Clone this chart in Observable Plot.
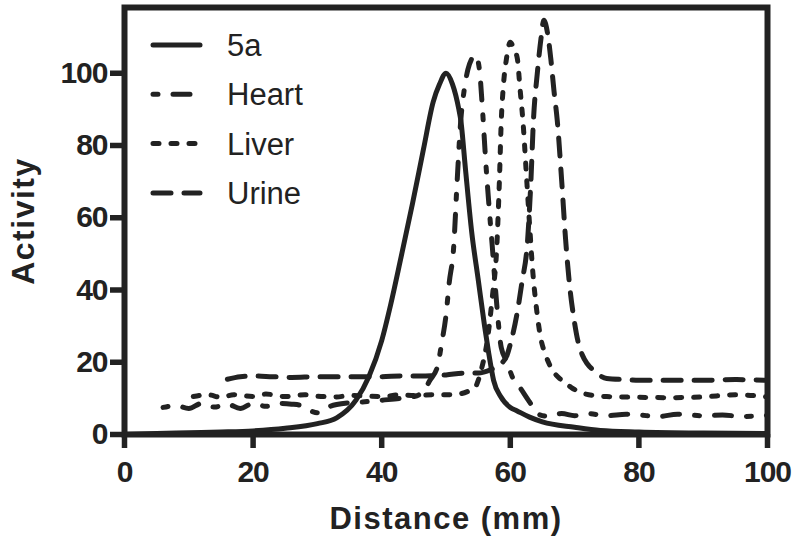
<!DOCTYPE html>
<html><head><meta charset="utf-8">
<script src="https://cdn.jsdelivr.net/npm/d3@7"></script>
<script src="https://cdn.jsdelivr.net/npm/@observablehq/plot@0.6"></script>
<style>
html,body{margin:0;padding:0;background:#fff;}
#chart svg{display:block;}
g[aria-label="x-axis tick label"] text, g[aria-label="y-axis tick label"] text {letter-spacing:-1px;}
</style></head><body><div id="chart"></div>
<script>
const seriesNames = ["5a", "Heart", "Liver", "Urine"];

const x5a = [0,5,10,15,20,25,30,33,36,38,40,41.4,43,44.8,46.5,48,49,50,51,52,52.3,53,54,55,56,56.6,57.4,58.5,60,61,63,65,70,74,80,90,100];
const y5a = [0,0.3,0.5,0.7,1,1.7,3,4.6,9.5,16,26,36,49,64,79,92,97,100,97,90,87,74,56,43,30,23,15,10.5,7.5,6.6,4.8,3.5,2,1.1,0.7,0.4,0.3];

const xHeart = [6,8,10,12,14,16,18,20,22,24,26,27.5,29,30,31.5,33,35,37,40,43,45,46.5,47.5,48.7,49.3,50,50.5,51.2,51.7,52.3,52.8,53.4,54,54.6,55.2,55.6,56.2,56.7,57.2,57.8,58.6,59.5,60.3,61.5,63,64.5,66,68,70,72,75,78,80,83,86,90,93,96,100];
const yHeart = [7.5,8,7.2,8.6,7.6,8.4,7.2,8.6,7.8,8.6,8.4,8,6.5,6,7.5,8.3,8.8,9,9.5,10,10.5,12,15,19,25,33,42,52,69,87,95,101,104,105,101,92,75,63,52,38,24,20,16,13,9,5.5,5,5.8,5.2,5.8,5.2,5.6,5.4,5,5.6,5.2,5.4,5,5.3];

const xLiver = [10.7,13,15,17,20,22,25,28,30,33,35,38,40,43,45,48,50,52,53.5,54.5,55.5,56.5,57.2,57.9,58.3,58.6,58.9,59.4,60,60.5,61.1,61.5,62,62.5,63,63.5,64,64.7,65.5,66.5,68,69.5,71.5,75,80,85,90,95,100];
const yLiver = [10.5,11,10.3,11,10.5,11.2,10.5,11,10.6,10.4,10.8,10.6,10.5,11,10.8,11,11,11.2,12,13,18,27,38,52,70,87,96,104,108.6,107,104,96,86,72,58,45,36,27,22,18,15,13,11.3,10.5,10.3,10.2,10.4,11,10.4];

const xUrine = [16,18,20,23,26,30,33,36,40,43,46,50,53,55,57,58.5,59.5,60,61,61.8,62.7,63.2,63.6,64.2,64.8,65.2,65.8,66.3,66.8,67.3,68,68.6,69.3,69.9,70.5,71.2,72,73,75,78,80,85,90,95,100];
const yUrine = [15.3,16,16.2,16,15.8,16,16,16,16,16.2,16.2,16.5,17,17,18,19.5,22,25,33,42,54,70,87,100,110,114.7,111,104,95,87,70,54,40,32,26,22,19.5,17.7,15.5,15.2,15,15,15,15.2,15];

const xTicks = [0, 20, 40, 60, 80, 100];
const yTicks = [0, 20, 40, 60, 80, 100];
const xTitle = "Distance (mm)";
const yTitle = "Activity";

const ink = "#222";
const font = "'Liberation Sans', Arial, Helvetica, sans-serif";
const dashes = {"5a": null, "Heart": "5,15,17,15", "Liver": "6,12", "Urine": "18,13"};

function rows(name, xs, ys) { return xs.map((x, i) => ({series: name, x, y: ys[i]})); }
const data = {
  "5a": rows("5a", x5a, y5a),
  "Heart": rows("Heart", xHeart, yHeart),
  "Liver": rows("Liver", xLiver, yLiver),
  "Urine": rows("Urine", xUrine, yUrine)
};

const chart = Plot.plot({
  width: 796, height: 541,
  marginLeft: 124, marginRight: 29, marginTop: 7, marginBottom: 107,
  style: {fontFamily: font, color: ink, background: "#fff", overflow: "visible"},
  x: {domain: [0, 100]},
  y: {domain: [0, 118.2]},
  marks: [
    ...seriesNames.map(name => Plot.line(data[name], {
      x: "x", y: "y", stroke: ink, strokeWidth: 5,
      strokeDasharray: dashes[name], strokeLinecap: "round", strokeLinejoin: "round",
      curve: "monotone-x"
    })),
    Plot.frame({stroke: ink, strokeWidth: 6}),
    Plot.axisX({ticks: xTicks, tickSize: 14, tickPadding: 12, stroke: ink, strokeWidth: 5.5,
      fontSize: 30, fontWeight: "bold", label: null, tickFormat: d => String(d)}),
    Plot.axisY({ticks: yTicks, tickSize: 14, tickPadding: 3, stroke: ink, strokeWidth: 5.5,
      fontSize: 30, fontWeight: "bold", label: null, tickFormat: d => String(d)}),
    Plot.text([xTitle], {text: d => d, frameAnchor: "bottom", dy: 94, lineAnchor: "bottom",
      textAnchor: "middle", fontSize: 31, fontWeight: "bold", fill: ink}),
    Plot.text([yTitle], {text: d => d, frameAnchor: "left", dx: -91, rotate: -90, lineAnchor: "bottom",
      textAnchor: "middle", fontSize: 32, fontWeight: "bold", fill: ink})
  ]
});

d3.select(chart).selectAll("text")
  .filter(function() { return this.textContent === xTitle || this.textContent === yTitle; })
  .style("letter-spacing", "1.5px");

// legend
const lg = d3.select(chart).append("g")
  .attr("font-family", font).attr("fill", ink).attr("text-anchor", "start");
seriesNames.forEach((name, i) => {
  const yy = 45 + i * 49.3;
  lg.append("line").attr("x1", 153).attr("x2", 200).attr("y1", yy).attr("y2", yy)
    .attr("stroke", ink).attr("stroke-width", 5).attr("stroke-linecap", "round")
    .attr("stroke-dasharray", dashes[name]);
  lg.append("text").attr("x", 227).attr("y", yy + 11).attr("font-size", 31)
    .attr("text-anchor", "start").text(name);
});

document.getElementById("chart").append(chart);
</script></body></html>
